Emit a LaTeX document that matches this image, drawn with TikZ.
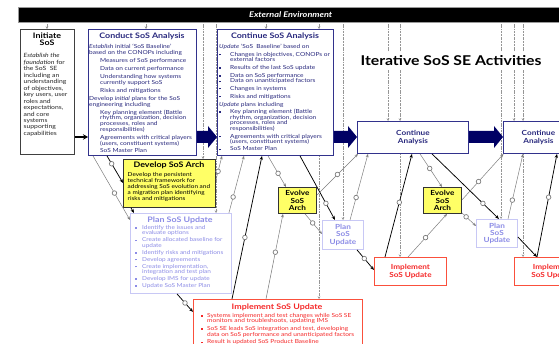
\documentclass[tikz,border=0pt]{standalone}
\usepackage{fontspec}
\setmainfont{Lato}[FakeStretch=1.17]
\usetikzlibrary{calc,arrows.meta}

\definecolor{navytext}{RGB}{40,40,125}
\definecolor{navyframe}{RGB}{50,50,140}
\definecolor{arrownavy}{RGB}{0,0,100}
\definecolor{lavtext}{RGB}{140,140,230}
\definecolor{lavframe}{RGB}{200,200,245}
\definecolor{redtext}{RGB}{245,40,40}
\definecolor{redframe}{RGB}{250,80,60}
\definecolor{archfill}{RGB}{255,255,102}
\definecolor{linegray}{RGB}{125,125,125}
\definecolor{extgray}{RGB}{150,150,150}

\newcommand\bodyf{\fontsize{5.6}{5.6}\selectfont}
\newcommand\bul[1]{\makebox[#1][l]{\raisebox{0.7pt}{\rule{1.4pt}{1.4pt}}}}
% block arrow of the main sequence, from node #1 to node #2
\newcommand\navyarrow[2]{%
  \fill[arrownavy] ($(#1.east|-arrowrow)+(0,-6)$) -- ($(#2.west|-arrowrow)+(-9,-6)$)
    -- ($(#2.west|-arrowrow)+(-9,-11)$) -- (#2.west|-arrowrow)
    -- ($(#2.west|-arrowrow)+(-9,11)$) -- ($(#2.west|-arrowrow)+(-9,6)$)
    -- ($(#1.east|-arrowrow)+(0,6)$) -- cycle;}

\begin{document}
\begin{tikzpicture}[x=1pt,y=-1pt,
  frame/.style={anchor=north west, inner sep=0pt, fill=white},
  initbox/.style={frame, draw=black!75, line width=1.1pt},
  anbox/.style={frame, draw=navyframe, line width=0.9pt},
  archbox/.style={frame, draw=black!80, fill=archfill, line width=0.9pt},
  planbox/.style={frame, draw=lavframe, line width=0.9pt},
  implbox/.style={frame, draw=redframe, line width=0.9pt},
  smalltext/.style={align=center, font=\bfseries\fontsize{7}{7.2}\selectfont},
  boxtitle/.style={font=\bfseries\fontsize{7.6}{7.4}\selectfont, align=center, inner sep=0pt},
  boxbody/.style={anchor=north west, align=left, font=\bodyf, inner sep=0pt},
  ext/.style={draw=extgray, line width=0.5pt, dash pattern=on 1.3pt off 0.8pt on 0.4pt off 0.8pt,
    -{Stealth[length=2.6pt,width=2.6pt]}},
  gline/.style={draw=linegray, line width=0.5pt, -{Stealth[length=3.5pt,width=2.8pt]}},
  bline/.style={draw=black, line width=0.75pt, -{Stealth[length=4pt,width=3.2pt]}},
  circ/.style={circle, draw=linegray, fill=white, line width=0.7pt, minimum size=4.6pt, inner sep=0pt}]
\useasboundingbox (0,0) rectangle (559,344);
\clip (0,0) rectangle (559,344);

% external environment bar
\node[fill=black, draw=black!40, line width=0.4pt, minimum width=545pt, minimum height=15pt,
  anchor=north west, inner sep=0pt, text=white, font=\bfseries\itshape\fontsize{7.8}{7.8}\selectfont]
  (ee) at (18,7) {External Environment};

% drop points of the environment lines
\coordinate (arrowrow) at (0,137);
\foreach \n/\x in {1/47,2/146,3/203,4/216,5/266,6/319,7/343,8/388,9/400,10/501,11/514,12/523}
  \coordinate (x\n) at (\x,22);

% boxes
\node[initbox, minimum width=54pt, minimum height=125pt] (init) at (20,29) {};
\node[anbox, minimum width=108pt, minimum height=126pt] (conduct) at (88,29) {};
\node[anbox, minimum width=116pt, minimum height=126pt] (cont) at (217,29) {};
\node[archbox, minimum width=92pt, minimum height=48pt] (dev) at (123,159) {};
\node[planbox, minimum width=101pt, minimum height=80pt] (plan) at (130,213) {};
\node[implbox, minimum width=169pt, minimum height=60pt] (impl) at (193,299) {};
\node[anbox, minimum width=111pt, minimum height=32pt, text=navytext, smalltext] (ca1) at (357,121) {Continue\\Analysis};
\node[anbox, minimum width=70pt, minimum height=32pt, text=navytext, smalltext] (ca2) at (503,121) {Continue\\Analysis};
\node[archbox, minimum width=38pt, minimum height=26pt, smalltext] (ev1) at (278,187) {Evolve\\SoS\\Arch};
\node[archbox, minimum width=38pt, minimum height=26pt, smalltext] (ev2) at (423,187) {Evolve\\SoS\\Arch};
\node[planbox, minimum width=41pt, minimum height=29pt, text=lavtext, smalltext] (pl1) at (322,220) {Plan\\SoS\\Update};
\node[planbox, minimum width=41pt, minimum height=28pt, text=lavtext, smalltext] (pl2) at (476,219) {Plan\\SoS\\Update};
\node[implbox, minimum width=72pt, minimum height=28pt, text=redtext, smalltext] (im1) at (374,257) {Implement\\SoS Update};
\node[implbox, minimum width=76pt, minimum height=28pt, text=redtext, smalltext] (im2) at (514,257) {Implement\\SoS Update};

% environment lines
\draw[ext] (x1) -- (init.north -| x1);
\draw[ext] (x2) -- (conduct.north -| x2);
\draw[ext] (x3) -- (dev.north -| x3);
\draw[ext] (x4) -- (plan.north -| x4);
\draw[ext] (x5) -- (cont.north -| x5);
\draw[ext] (x6 |- cont.south) -- (impl.north -| x6);
\draw[ext] (x6) -- (cont.north -| x6);
\draw[ext] (x7) -- (pl1.north -| x7);
\draw[ext] (x8) -- (ca1.north -| x8);
\draw[ext] (x9) -- (ca1.north -| x9);
\draw[ext] (x9 |- ca1.south) -- (im1.north -| x9);
\draw[ext] (x10) -- (pl2.north -| x10);
\draw[ext] (x11) -- (ca2.north -| x11);
\draw[ext] (x12) -- (ca2.north -| x12);
\draw[ext] (x12 |- ca2.south) -- (im2.north -| x12);

% heading
\node[fill=white, font=\bfseries\fontsize{13.5}{13.5}\selectfont, inner xsep=1pt, inner ysep=3.5pt]
  (head) at (451,61) {Iterative SoS SE Activities};

% Initiate SoS
\node[boxtitle, text=black] (init-t) at (47,39.5) {Initiate\\SoS};
\node[boxbody, font=\fontsize{5.8}{6.45}\selectfont, text=black!85] (init-b) at (23.5,53.5)
  {\textit{Establish the}\\\textit{foundation} for\\the SoS\ \ SE\\including an\\understanding\\of objectives,\\key users, user\\roles and\\expectations,\\and core\\systems\\supporting\\capabilities};

% Conduct SoS Analysis
\node[boxtitle, text=navytext] (conduct-t) at (142,36) {Conduct SoS Analysis};
\node[boxbody, text=navytext] (conduct-b) at (89,44.5)
  {\textit{Establish} initial `SoS Baseline'\\
   based on the CONOPs including\\[2.4pt]
   \hspace*{11pt}Measures of SoS performance\\[2.4pt]
   \hspace*{11pt}Data on current performance\\[2.4pt]
   \hspace*{11pt}Understanding how systems\\
   \hspace*{11pt}currently support SoS\\[2.4pt]
   \hspace*{11pt}Risks and mitigations\\[3pt]
   Develop \textit{initial} plans for the SoS\\
   engineering including\\[2.4pt]
   \hspace*{11pt}Key planning element (Battle\\
   \hspace*{11pt}rhythm, organization, decision\\
   \hspace*{11pt}processes, roles and\\
   \hspace*{11pt}responsibilities)\\[3pt]
   \hspace*{11pt}Agreements with critical players\\
   \hspace*{11pt}(users, constituent systems)\\[1.7pt]
   \hspace*{11pt}SoS Master Plan};

% Continue SoS Analysis
\node[boxtitle, text=navytext] (cont-t) at (275,36) {Continue SoS Analysis};
\node[boxbody, text=navytext] (cont-b) at (219,44.5)
  {\textit{Update} `SoS\ \ Baseline' based on\\[1.5pt]
   \bul{11pt}Changes in objectives, CONOPs or\\
   \hspace*{11pt}external factors\\[2.2pt]
   \bul{11pt}Results of the last SoS update\\[2.2pt]
   \bul{11pt}Data on SoS performance\\
   \bul{11pt}Data on unanticipated factors\\[1.7pt]
   \bul{11pt}Changes in systems\\[2.4pt]
   \bul{11pt}Risks and mitigations\\[2.4pt]
   \textit{Update} plans including\\[1.7pt]
   \bul{11pt}Key planning element (Battle\\
   \hspace*{11pt}rhythm, organization, decision\\
   \hspace*{11pt}processes, roles and\\
   \hspace*{11pt}responsibilities)\\[2.2pt]
   \bul{11pt}Agreements with critical players\\
   \hspace*{11pt}(users, constituent systems)\\[1.7pt]
   \bul{11pt}SoS Master Plan};

% Develop SoS Arch
\node[boxtitle, text=black] (dev-t) at (169,165.5) {Develop SoS Arch};
\node[boxbody, text=black, font=\fontsize{5.5}{6}\selectfont] (dev-b) at (127.5,172)
  {Develop the persistent\\technical framework for\\addressing SoS evolution and\\a migration plan identifying\\risks and mitigations};

% Plan SoS Update
\node[boxtitle, text=lavtext] (plan-t) at (180,220) {Plan SoS Update};
\node[boxbody, text=lavtext, font=\fontsize{5.5}{5.6}\selectfont] (plan-b) at (135,225)
  {\bul{7pt}Identify the issues and\\
   \hspace*{7pt}evaluate options\\[1.3pt]
   \bul{7pt}Create allocated baseline for\\
   \hspace*{7pt}update\\[1.3pt]
   \bul{7pt}Identify risks and mitigations\\[1.3pt]
   \bul{7pt}Develop agreements\\[1.3pt]
   \bul{7pt}Create implementation,\\
   \hspace*{7pt}integration and test plan\\[1.3pt]
   \bul{7pt}Develop IMS for update\\[1.3pt]
   \bul{7pt}Update SoS Master Plan};

% Implement SoS Update
\node[boxtitle, text=redtext] (impl-t) at (277,307) {Implement SoS Update};
\node[boxbody, text=redtext] (impl-b) at (201,313)
  {\bul{6pt}Systems implement and test changes while SoS SE\\
   \hspace*{6pt}monitors and troubleshoots, updating IMS\\[2pt]
   \bul{6pt}SoS SE leads SoS integration and test, developing\\
   \hspace*{6pt}data on SoS performance and unanticipated factors\\[2pt]
   \bul{6pt}Result is updated SoS Product Baseline};

% flows between the activities
\draw[gline] ($(conduct.south west)+(5,0)$) -- node[circ,pos=.58]{} ($(plan.north west)+(0,7)$);
\draw[bline] ($(conduct.south west)+(19,0)$) -- node[circ,pos=.29]{} ($(dev.north west)+(0,24)$);
\draw[bline] ($(dev.south west)+(8,0)$) -- ($(plan.north west)+(4,0)$);
\draw[gline] ($(dev.north east)+(0,21)$) -- node[circ,pos=.36]{} ($(cont.south west)+(5,0)$);
\draw[gline] ($(plan.north east)+(-3,0)$) -- node[circ,pos=.28]{} ($(cont.south west)+(27,0)$);
\draw[bline] ($(impl.north west)+(39,0)$) -- node[circ,pos=.43]{} ($(cont.south west)+(45,0)$);
\draw[gline] ($(impl.north west)+(73,0)$) -- node[circ,pos=.55]{} ($(ev1.south west)+(5,0)$);
\draw[gline] ($(cont.south west)+(51,0)$) -- node[circ,pos=.56]{} ($(ev1.north west)+(8,0)$);
\draw[bline] ($(cont.south west)+(83,0)$) -- node[circ,pos=.74]{} ($(pl1.north west)+(13,0)$);
\draw[gline] ($(ev1.north east)+(0,8)$) -- node[circ,pos=.5]{} ($(ca1.south west)+(1,0)$);
\draw[gline] ($(pl1.north west)+(28,0)$) -- node[circ,pos=.34]{} ($(ca1.south west)+(11,0)$);
\draw[gline] ($(ev1.south west)+(27,0)$) -- node[circ,pos=.45]{} ($(pl1.north west)+(0,14)$);
\draw[bline] ($(pl1.south west)+(35,0)$) -- node[circ,pos=.43]{} ($(im1.north west)+(0,13)$);
\draw[bline] ($(im1.north west)+(11,0)$) -- node[circ,pos=.53]{} ($(ca1.south west)+(55,0)$);
\draw[gline] ($(im1.north west)+(34,0)$) -- node[circ,pos=.45]{} ($(ev2.south west)+(24,0)$);
\draw[gline] ($(ca1.south west)+(63,0)$) -- node[circ,pos=.44]{} ($(ev2.north west)+(19,0)$);
\draw[bline] ($(ca1.south west)+(75,0)$) -- node[circ,pos=.76]{} ($(pl2.north west)+(23,0)$);
\draw[gline] ($(ev2.north east)+(0,13)$) -- node[circ,pos=.4]{} ($(ca2.south west)+(0.5,0)$);
\draw[gline] ($(ev2.south east)+(0,-1)$) -- node[circ,pos=.3]{} ($(pl2.north west)+(0,7)$);
\draw[gline] ($(pl2.north west)+(32,0)$) -- node[circ,pos=.29]{} ($(ca2.south west)+(20,0)$);
\draw[bline] ($(pl2.north east)+(0,18)$) -- ($(im2.north west)+(23,0)$);
\draw[bline] ($(im2.north west)+(23,0)$) -- node[circ,pos=.58]{} ($(ca2.south west)+(54,0)$);
\draw[bline] ($(plan.south west)+(47,0)$) -- node[circ,pos=.5]{} ($(impl.north west)+(0,13)$);

% main sequence
\draw[line width=1.6pt, -{Stealth[length=5pt,width=5.5pt]}] (init.east|-arrowrow) -- (conduct.west|-arrowrow);
\navyarrow{conduct}{cont}
\navyarrow{cont}{ca1}
\navyarrow{ca1}{ca2}
\end{tikzpicture}
\end{document}
